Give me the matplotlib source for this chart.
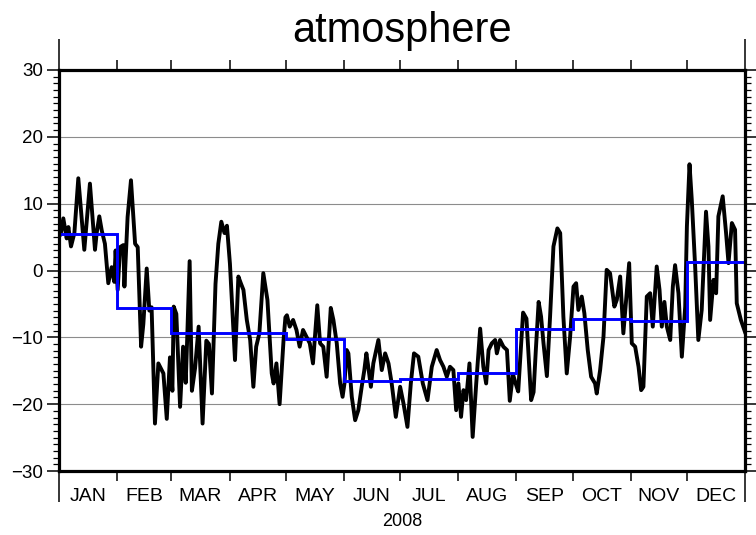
import numpy as np
import matplotlib
matplotlib.use("Agg")
import matplotlib.pyplot as plt
from matplotlib.ticker import MultipleLocator, FixedLocator, NullFormatter

plt.rcParams["font.family"] = ["Liberation Sans", "DejaVu Sans"]

# Série journalière (jour de l'année 2008, valeur)
jours = [
    0, 1, 2.3, 4.1, 5, 6.4, 8.2, 10.3, 13.5, 16.5, 19.2, 20.1, 21.5, 22.8,
    24.5, 26.3, 28.1, 29.5, 30.2, 31.3, 32.6, 34.3, 34.9, 36.6, 38.4, 40.6,
    42, 43.8, 45, 46.8, 48.2, 49.4, 51.2, 53, 54.8, 55.7, 57.5, 59.2, 60.5,
    61.2, 62.6, 64.6, 66.2, 67.6, 68.3, 69.7, 70.9, 72.6, 74.5, 76.6, 78.6,
    80, 81.6, 83.5, 85, 86.6, 88.3, 89.6, 91.2, 93.9, 95.7, 97, 98.4, 100.2,
    102, 103.7, 105.2, 106.9, 109, 111.2, 113.5, 114.5, 116, 117.7, 119.8,
    120.8, 121.6, 123.1, 124.9, 126.7, 128.4, 130.2, 132, 133.8, 135.5,
    137.8, 139.3, 141, 142.8, 145, 146.4, 148.2, 150, 151.3, 152.3, 153.5,
    154.4, 156.2, 158, 159.7, 161.5, 162.9, 164, 165, 166.4, 167.7, 170.4,
    172.2, 174, 175.8, 177.5, 179.7, 182, 183.8, 185.9, 187.7, 189.4, 191.7,
    194.1, 196.6, 198.9, 201.5, 203.3, 205.1, 206.9, 208.6, 210.4, 211.9,
    213.1, 214.5, 215.8, 217.2, 219, 220.7, 222.6, 224.7, 226.4, 227.9,
    229.2, 230.9, 232.7, 233.6, 235.3, 237.1, 239, 240.5, 242.2, 243.5, 245,
    247.6, 249.4, 251.9, 253.2, 254.4, 255.9, 257.2, 258.5, 260.3, 262,
    263.8, 265.9, 267.4, 269.1, 270.9, 272.7, 274.5, 275.9, 277.1, 278.9,
    280.3, 282.1, 283.9, 286, 286.9, 288.7, 290.5, 292.2, 294, 296.3, 297.6,
    299.4, 301.1, 304.2, 305.6, 307.4, 309.2, 310.6, 311.8, 313.6, 315.4,
    316.8, 318.9, 320.4, 321.6, 323, 324.3, 326.1, 327.5, 328.7, 330.5,
    332.3, 334.1, 335, 336.4, 337.6, 339.4, 341.1, 342.9, 345.2, 346.5,
    347.4, 349.2, 350.6, 351.8, 354.1, 355.9, 357.2, 359, 360.7, 361.6,
    363.8, 366,
]
valeurs = [
    5.0, 5.6, 7.8, 4.8, 6.5, 3.6, 5.6, 13.8, 3.1, 13.0, 3.1, 5.6, 8.1, 6.0,
    4.0, -1.9, 0.5, -1.7, 3.0, -2.9, 3.5, 3.8, -2.4, 8.0, 13.5, 4.0,
    3.5, -11.4, -8.0, 0.3, -6.0, -5.5, -22.9, -13.9, -14.9, -15.4, -22.2, -13.0, -18.0,
    -5.4, -6.5, -20.4, -11.4, -16.8, -11.0, 1.4, -18.0, -14.6, -8.4, -22.9, -10.5,
    -11.0, -18.4, -2.0, 4.0, 7.3, 5.6, 6.7, 1.0, -13.4, -0.9, -1.9, -2.9, -7.4,
    -10.4, -17.4, -11.4, -9.4, -0.4, -4.4, -15.4, -16.9, -13.9, -20.0, -10.4,
    -7.0, -6.7, -8.4, -7.4, -8.9, -11.4, -8.9, -9.9, -10.9, -13.9,
    -5.2, -10.9, -11.4, -15.9, -5.6, -7.4, -10.9, -16.9, -18.9, -16.9, -11.9,
    -12.4, -18.9, -22.4, -20.9, -17.4, -14.9, -12.4, -14.4, -17.4, -13.9, -10.4,
    -14.9, -12.4, -13.9, -16.9, -21.9, -17.4, -19.9, -23.4, -16.9, -12.4, -12.9,
    -16.9, -19.4, -14.4, -11.9, -13.4, -14.4, -15.9, -14.4, -14.9, -20.9,
    -16.9, -21.9, -17.9, -19.4, -13.9, -24.9, -16.9, -8.7, -14.4, -16.9,
    -11.9, -10.9, -10.4, -12.4, -10.4, -11.4, -11.9, -19.5, -15.5, -16.8, -18.1,
    -6.3, -7.2, -19.4, -18.2, -11.9, -4.7, -6.9, -10.9, -15.8, -6.9,
    3.6, 6.3, 5.6, -6.9, -15.4, -9.9, -2.4, -1.9, -5.9, -3.9,
    -6.4, -11.9, -15.9, -16.9, -18.4, -14.9, -9.9, 0.1, -0.4, -5.4, -4.4,
    -0.9, -9.4, 1.1, -10.9, -11.4, -14.4, -17.9, -17.4, -3.9, -3.4,
    -8.4, 0.6, -2.9, -8.4, -4.7, -8.4, -10.4, -2.4, 0.8, -3.4,
    -12.9, -5.4, 6.6, 15.9, 10.6, 0.6, -10.4, -5.9, 8.8, 3.6,
    -7.4, -1.4, -3.4, 8.1, 11.1, 5.6, 1.1, 7.1, 6.1, -4.9,
    -7.4, -9.2,
]

# Moyennes mensuelles (courbe bleue)
moyennes_mensuelles = [5.5, -5.6, -9.3, -9.3, -10.3, -16.6, -16.3, -15.4, -8.8, -7.3, -7.6, 1.2]
bornes_mois = [0, 31, 60, 91, 121, 152, 182, 213, 244, 274, 305, 335, 366]
noms_mois = ["JAN", "FEB", "MAR", "APR", "MAY", "JUN",
             "JUL", "AUG", "SEP", "OCT", "NOV", "DEC"]

fig = plt.figure(figsize=(7.56, 5.35), dpi=100)
ax = fig.add_axes([59 / 756, 1 - 471 / 535, (745 - 59) / 756, (471 - 70) / 535])

# Grille horizontale
for yg in [-20, -10, 0, 10, 20]:
    ax.axhline(yg, color="#8c8c8c", lw=0.8, zorder=1)

ax.plot(jours, valeurs, color="black", lw=2.8, solid_joinstyle="round", zorder=3)
ax.stairs(moyennes_mensuelles, bornes_mois, baseline=None, color="#0000ff", lw=2.1, zorder=4)

ax.set_xlim(0, 366)
ax.set_ylim(-30, 30)

# Axe y : graduations majeures tous les 10, mineures tous les 1
ax.yaxis.set_major_locator(MultipleLocator(10))
ax.yaxis.set_minor_locator(MultipleLocator(1))
ax.tick_params(axis="y", which="major", direction="out", length=8.5, width=1.1,
               left=True, right=True, labelsize=13.5, pad=3)
ax.tick_params(axis="y", which="minor", direction="out", length=4.3, width=0.9,
               left=True, right=True)

# Axe x : bornes des mois (majeures), noms au milieu (mineures)
centres = [(a + b) / 2 for a, b in zip(bornes_mois[:-1], bornes_mois[1:])]
ax.xaxis.set_major_locator(FixedLocator(bornes_mois[1:-1]))
ax.xaxis.set_major_formatter(NullFormatter())
ax.xaxis.set_minor_locator(FixedLocator(centres))
ax.set_xticklabels(noms_mois, minor=True)
ax.tick_params(axis="x", which="major", direction="out", length=7, width=1.1,
               top=True, bottom=True)
ax.tick_params(axis="x", which="minor", length=0, labelsize=14, pad=12)

for s in ax.spines.values():
    s.set_linewidth(2.3)
    s.set_zorder(5)

# Graduations de l'année (début et fin) plus longues, en haut et en bas
for cote in ["bottom", "top"]:
    sec = ax.secondary_xaxis(cote)
    sec.set_xticks([0, 366])
    sec.set_xticklabels(["", ""])
    sec.tick_params(direction="out", length=22, width=1.1)
    sec.spines[cote].set_visible(False)

fig.text(402 / 756, 1 - 521 / 535, "2008", ha="center", va="center", fontsize=13)
fig.text(402 / 756, 1 - 42 / 535, "atmosphere", ha="center", va="baseline", fontsize=30)

fig.savefig("out.png", dpi=100)
